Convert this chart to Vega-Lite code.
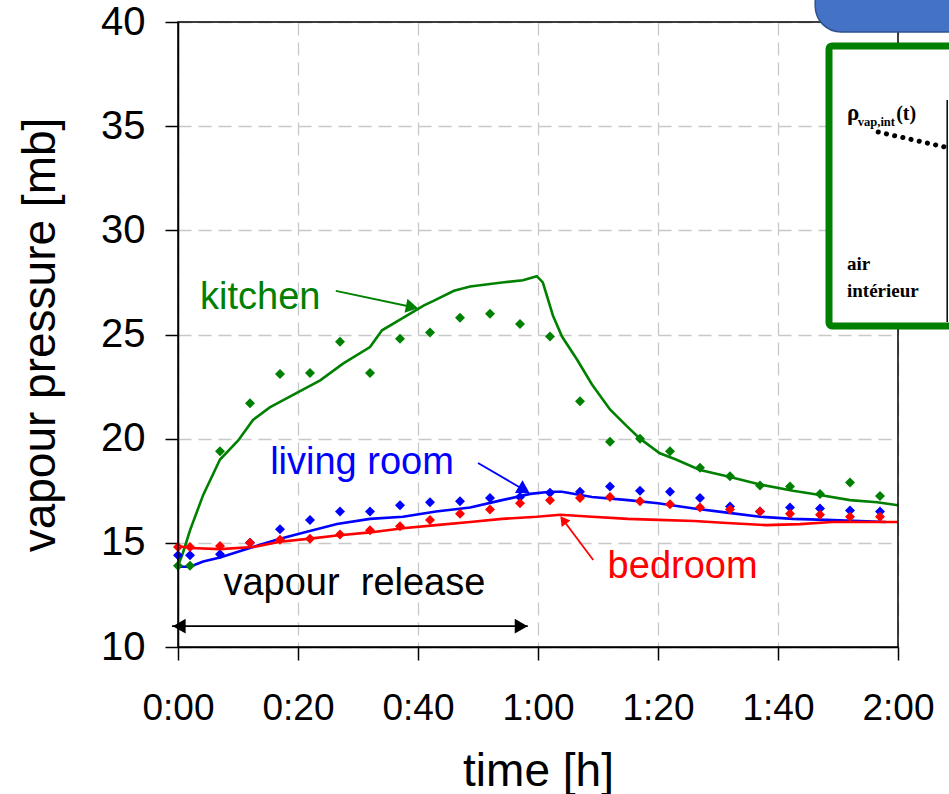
{
  "$schema": "https://vega.github.io/schema/vega-lite/v6.json",
  "width": 720,
  "height": 625,
  "autosize": "none",
  "padding": {"left": 178, "top": 22, "right": 51, "bottom": 147},
  "background": "white",
  "config": {"view": {"stroke": null}, "font": "Liberation Sans"},
  "datasets": {
    "sim": [
      {"series": "kitchen", "t": 0, "p": 13.9}, {"series": "kitchen", "t": 0.8, "p": 14.5}, {"series": "kitchen", "t": 2, "p": 15.6}, {"series": "kitchen", "t": 4.2, "p": 17.3}, {"series": "kitchen", "t": 7, "p": 19.0}, {"series": "kitchen", "t": 10, "p": 19.9}, {"series": "kitchen", "t": 12.5, "p": 20.9}, {"series": "kitchen", "t": 15.3, "p": 21.5}, {"series": "kitchen", "t": 19.8, "p": 22.2}, {"series": "kitchen", "t": 23.7, "p": 22.8}, {"series": "kitchen", "t": 27.5, "p": 23.6}, {"series": "kitchen", "t": 32, "p": 24.4}, {"series": "kitchen", "t": 34, "p": 25.2}, {"series": "kitchen", "t": 37.5, "p": 25.8}, {"series": "kitchen", "t": 41, "p": 26.4}, {"series": "kitchen", "t": 42.5, "p": 26.6}, {"series": "kitchen", "t": 46, "p": 27.1}, {"series": "kitchen", "t": 48.7, "p": 27.3}, {"series": "kitchen", "t": 54, "p": 27.5}, {"series": "kitchen", "t": 57.5, "p": 27.6}, {"series": "kitchen", "t": 59.8, "p": 27.8}, {"series": "kitchen", "t": 60.8, "p": 27.5}, {"series": "kitchen", "t": 62.5, "p": 25.9}, {"series": "kitchen", "t": 64, "p": 24.9}, {"series": "kitchen", "t": 66.5, "p": 23.8}, {"series": "kitchen", "t": 69, "p": 22.6}, {"series": "kitchen", "t": 72, "p": 21.4}, {"series": "kitchen", "t": 74.8, "p": 20.6}, {"series": "kitchen", "t": 77, "p": 20.0}, {"series": "kitchen", "t": 80.3, "p": 19.3}, {"series": "kitchen", "t": 83, "p": 19.0}, {"series": "kitchen", "t": 87, "p": 18.5}, {"series": "kitchen", "t": 91.5, "p": 18.2}, {"series": "kitchen", "t": 97, "p": 17.8}, {"series": "kitchen", "t": 102.5, "p": 17.5}, {"series": "kitchen", "t": 107, "p": 17.3}, {"series": "kitchen", "t": 112, "p": 17.05}, {"series": "kitchen", "t": 116.5, "p": 16.95}, {"series": "kitchen", "t": 120, "p": 16.8},
      {"series": "living room", "t": 0, "p": 13.85}, {"series": "living room", "t": 2, "p": 13.85}, {"series": "living room", "t": 4.2, "p": 14.1}, {"series": "living room", "t": 7, "p": 14.3}, {"series": "living room", "t": 12.5, "p": 14.8}, {"series": "living room", "t": 17, "p": 15.2}, {"series": "living room", "t": 21, "p": 15.5}, {"series": "living room", "t": 26.5, "p": 15.9}, {"series": "living room", "t": 32, "p": 16.15}, {"series": "living room", "t": 37.5, "p": 16.25}, {"series": "living room", "t": 43, "p": 16.5}, {"series": "living room", "t": 48.7, "p": 16.7}, {"series": "living room", "t": 54, "p": 17.05}, {"series": "living room", "t": 58.7, "p": 17.35}, {"series": "living room", "t": 62, "p": 17.45}, {"series": "living room", "t": 64, "p": 17.45}, {"series": "living room", "t": 69, "p": 17.2}, {"series": "living room", "t": 75, "p": 17.05}, {"series": "living room", "t": 80, "p": 16.9}, {"series": "living room", "t": 86, "p": 16.65}, {"series": "living room", "t": 91.5, "p": 16.45}, {"series": "living room", "t": 97, "p": 16.25}, {"series": "living room", "t": 102.5, "p": 16.15}, {"series": "living room", "t": 108, "p": 16.1}, {"series": "living room", "t": 113.7, "p": 16.05}, {"series": "living room", "t": 118, "p": 16.0},
      {"series": "bedroom", "t": 0, "p": 14.85}, {"series": "bedroom", "t": 2, "p": 14.75}, {"series": "bedroom", "t": 7, "p": 14.7}, {"series": "bedroom", "t": 12.5, "p": 14.8}, {"series": "bedroom", "t": 17, "p": 15.05}, {"series": "bedroom", "t": 22, "p": 15.2}, {"series": "bedroom", "t": 26.5, "p": 15.35}, {"series": "bedroom", "t": 32, "p": 15.5}, {"series": "bedroom", "t": 37.5, "p": 15.7}, {"series": "bedroom", "t": 43, "p": 15.85}, {"series": "bedroom", "t": 48.7, "p": 16.0}, {"series": "bedroom", "t": 54, "p": 16.15}, {"series": "bedroom", "t": 59.8, "p": 16.25}, {"series": "bedroom", "t": 63.7, "p": 16.35}, {"series": "bedroom", "t": 69, "p": 16.25}, {"series": "bedroom", "t": 75, "p": 16.15}, {"series": "bedroom", "t": 80, "p": 16.1}, {"series": "bedroom", "t": 86, "p": 16.05}, {"series": "bedroom", "t": 91.5, "p": 15.95}, {"series": "bedroom", "t": 98, "p": 15.85}, {"series": "bedroom", "t": 103.7, "p": 15.9}, {"series": "bedroom", "t": 109, "p": 16.0}, {"series": "bedroom", "t": 120, "p": 16.0}
    ],
    "meas": [
      {"series": "kitchen", "t": 0, "p": 13.9}, {"series": "kitchen", "t": 2, "p": 13.9}, {"series": "kitchen", "t": 7, "p": 19.4}, {"series": "kitchen", "t": 12, "p": 21.7}, {"series": "kitchen", "t": 17, "p": 23.1}, {"series": "kitchen", "t": 22, "p": 23.15}, {"series": "kitchen", "t": 27, "p": 24.65}, {"series": "kitchen", "t": 32, "p": 23.15}, {"series": "kitchen", "t": 37, "p": 24.8}, {"series": "kitchen", "t": 42, "p": 25.1}, {"series": "kitchen", "t": 47, "p": 25.8}, {"series": "kitchen", "t": 52, "p": 26.0}, {"series": "kitchen", "t": 57, "p": 25.5}, {"series": "kitchen", "t": 62, "p": 24.9}, {"series": "kitchen", "t": 67, "p": 21.8}, {"series": "kitchen", "t": 72, "p": 19.85}, {"series": "kitchen", "t": 77, "p": 20.0}, {"series": "kitchen", "t": 82, "p": 19.4}, {"series": "kitchen", "t": 87, "p": 18.6}, {"series": "kitchen", "t": 92, "p": 18.2}, {"series": "kitchen", "t": 97, "p": 17.75}, {"series": "kitchen", "t": 102, "p": 17.7}, {"series": "kitchen", "t": 107, "p": 17.35}, {"series": "kitchen", "t": 112, "p": 17.9}, {"series": "kitchen", "t": 117, "p": 17.25},
      {"series": "living room", "t": 0, "p": 14.4}, {"series": "living room", "t": 2, "p": 14.4}, {"series": "living room", "t": 7, "p": 14.45}, {"series": "living room", "t": 12, "p": 15.0}, {"series": "living room", "t": 17, "p": 15.65}, {"series": "living room", "t": 22, "p": 16.1}, {"series": "living room", "t": 27, "p": 16.5}, {"series": "living room", "t": 32, "p": 16.5}, {"series": "living room", "t": 37, "p": 16.8}, {"series": "living room", "t": 42, "p": 16.95}, {"series": "living room", "t": 47, "p": 17.0}, {"series": "living room", "t": 52, "p": 17.15}, {"series": "living room", "t": 57, "p": 17.2}, {"series": "living room", "t": 62, "p": 17.4}, {"series": "living room", "t": 67, "p": 17.45}, {"series": "living room", "t": 72, "p": 17.7}, {"series": "living room", "t": 77, "p": 17.5}, {"series": "living room", "t": 82, "p": 17.45}, {"series": "living room", "t": 87, "p": 17.15}, {"series": "living room", "t": 92, "p": 16.75}, {"series": "living room", "t": 97, "p": 16.5}, {"series": "living room", "t": 102, "p": 16.7}, {"series": "living room", "t": 107, "p": 16.65}, {"series": "living room", "t": 112, "p": 16.55}, {"series": "living room", "t": 117, "p": 16.5},
      {"series": "bedroom", "t": 0, "p": 14.8}, {"series": "bedroom", "t": 2, "p": 14.8}, {"series": "bedroom", "t": 7, "p": 14.85}, {"series": "bedroom", "t": 12, "p": 15.0}, {"series": "bedroom", "t": 17, "p": 15.15}, {"series": "bedroom", "t": 22, "p": 15.2}, {"series": "bedroom", "t": 27, "p": 15.4}, {"series": "bedroom", "t": 32, "p": 15.6}, {"series": "bedroom", "t": 37, "p": 15.8}, {"series": "bedroom", "t": 42, "p": 16.1}, {"series": "bedroom", "t": 47, "p": 16.4}, {"series": "bedroom", "t": 52, "p": 16.6}, {"series": "bedroom", "t": 57, "p": 16.9}, {"series": "bedroom", "t": 62, "p": 17.05}, {"series": "bedroom", "t": 67, "p": 17.15}, {"series": "bedroom", "t": 72, "p": 17.2}, {"series": "bedroom", "t": 77, "p": 17.0}, {"series": "bedroom", "t": 82, "p": 16.85}, {"series": "bedroom", "t": 87, "p": 16.7}, {"series": "bedroom", "t": 92, "p": 16.6}, {"series": "bedroom", "t": 97, "p": 16.5}, {"series": "bedroom", "t": 102, "p": 16.4}, {"series": "bedroom", "t": 107, "p": 16.35}, {"series": "bedroom", "t": 112, "p": 16.25}, {"series": "bedroom", "t": 117, "p": 16.25}
    ],
    "labels": [
      {"label": "kitchen", "series": "kitchen", "t": 13.7, "p": 26.23},
      {"label": "living room", "series": "living room", "t": 30.67, "p": 18.3},
      {"label": "bedroom", "series": "bedroom", "t": 84.1, "p": 13.31},
      {"label": "vapour\u00a0 release", "series": "other", "t": 29.4, "p": 12.5}
    ],
    "segments": [
      {"series": "kitchen", "t": 26.3, "p": 27.09, "t2": 39.0, "p2": 26.32},
      {"series": "living room", "t": 50, "p": 18.83, "t2": 57.7, "p2": 17.54},
      {"series": "bedroom", "t": 69.2, "p": 14.18, "t2": 64.2, "p2": 16.1},
      {"series": "other", "t": -1, "p": 11.0, "t2": 58.3, "p2": 11.0}
    ],
    "heads": [
      {"head": "kitchen", "series": "kitchen", "t": 39.0, "p": 26.32},
      {"head": "living", "series": "living room", "t": 57.7, "p": 17.54},
      {"head": "bedroom", "series": "bedroom", "t": 64.2, "p": 16.1},
      {"head": "releaseL", "series": "other", "t": 0.2, "p": 11.0},
      {"head": "releaseR", "series": "other", "t": 57.2, "p": 11.0}
    ],
    "shapes": [
      {"shape": "blue", "x1": 106.2, "x2": 140, "y1": 39.52, "y2": 42.5},
      {"shape": "green", "x1": 108.5, "x2": 135, "y1": 25.41, "y2": 38.85}
    ],
    "insetlines": [
      {"ln": "dots", "t": 116.7, "p": 34.72, "t2": 127.8, "p2": 34.0},
      {"ln": "wall", "t": 128.2, "p": 36.26, "t2": 128.2, "p2": 25.6}
    ],
    "insettext": [
      {"txt": "ρ", "t": 111.5, "p": 35.3, "kind": "rho"},
      {"txt": "vap,int", "t": 113.3, "p": 35.0, "kind": "sub"},
      {"txt": "(t)", "t": 119.7, "p": 35.3, "kind": "big"},
      {"txt": "air", "t": 111.5, "p": 28.1, "kind": "body"},
      {"txt": "intérieur", "t": 111.5, "p": 26.8, "kind": "body"}
    ]
  },
  "layer": [
    {
      "data": {"name": "sim"},
      "mark": {"type": "line", "strokeWidth": 2.6, "clip": false},
      "encoding": {
        "x": {
          "field": "t", "type": "quantitative", "title": "time [h]",
          "scale": {"domain": [0, 120], "nice": false, "zero": false},
          "axis": {
            "values": [0, 20, 40, 60, 80, 100, 120],
            "labelExpr": "floor(datum.value/60) + ':' + (datum.value % 60 < 10 ? '0' : '') + (datum.value % 60)",
            "labelFontSize": 37, "labelColor": "black", "labelPadding": 30, "labelFlush": false,
            "tickSize": 13, "tickColor": "black", "tickWidth": 1.5,
            "domainColor": "black", "domainWidth": 1.5,
            "grid": true, "gridColor": "#C8C8C8", "gridDash": [13, 7], "gridWidth": 1.3,
            "titleFontSize": 46, "titleFontWeight": "normal", "titleColor": "black",
            "titleX": 360, "titleY": 138, "titleBaseline": "alphabetic", "titleAlign": "center"
          }
        },
        "y": {
          "field": "p", "type": "quantitative", "title": "vapour pressure [mb]",
          "scale": {"domain": [10, 40], "nice": false, "zero": false},
          "axis": {
            "values": [10, 15, 20, 25, 30, 35, 40],
            "labelFontSize": 40, "labelColor": "black", "labelPadding": 20, "labelFlush": false,
            "tickSize": 13, "tickColor": "black", "tickWidth": 1.5,
            "domainColor": "black", "domainWidth": 1.5,
            "grid": true, "gridColor": "#C8C8C8", "gridDash": [13, 7], "gridWidth": 1.3,
            "titleFontSize": 46, "titleFontWeight": "normal", "titleColor": "black",
            "titleX": -138, "titleY": 312.5, "titleBaseline": "middle", "titleAlign": "center", "titleAngle": -90
          }
        },
        "color": {
          "field": "series", "type": "nominal", "legend": null,
          "scale": {"domain": ["kitchen", "living room", "bedroom", "other"], "range": ["#008000", "#0000FF", "#FF0000", "#000000"]}
        },
        "detail": {"field": "series"}
      }
    },
    {
      "data": {"name": "meas"},
      "mark": {"type": "point", "shape": "diamond", "filled": true, "opacity": 1},
      "encoding": {
        "x": {"field": "t", "type": "quantitative", "title": "time [h]"},
        "y": {"field": "p", "type": "quantitative", "title": "vapour pressure [mb]"},
        "color": {"field": "series", "type": "nominal", "legend": null},
        "size": {"field": "series", "type": "nominal", "legend": null, "scale": {"domain": ["kitchen", "living room", "bedroom"], "range": [100, 100, 50]}}
      }
    },
    {
      "data": {"values": [{}]},
      "mark": {"type": "rect", "fillOpacity": 0, "stroke": "black", "strokeWidth": 1.5},
      "encoding": {
        "x": {"datum": 0, "type": "quantitative"},
        "x2": {"datum": 120},
        "y": {"datum": 10, "type": "quantitative"},
        "y2": {"datum": 40}
      }
    },
    {
      "data": {"name": "segments"},
      "mark": {"type": "rule", "strokeWidth": 1.8, "clip": false},
      "encoding": {
        "x": {"field": "t", "type": "quantitative", "title": "time [h]"},
        "y": {"field": "p", "type": "quantitative", "title": "vapour pressure [mb]"},
        "x2": {"field": "t2"},
        "y2": {"field": "p2"},
        "color": {"field": "series", "type": "nominal", "legend": null}
      }
    },
    {
      "data": {"name": "heads"},
      "transform": [{"filter": "datum.head == 'kitchen'"}],
      "mark": {"type": "point", "shape": "triangle-right", "filled": true, "opacity": 1, "size": 200, "angle": 12, "clip": false},
      "encoding": {
        "x": {"field": "t", "type": "quantitative", "title": "time [h]"},
        "y": {"field": "p", "type": "quantitative", "title": "vapour pressure [mb]"},
        "color": {"field": "series", "type": "nominal", "legend": null}
      }
    },
    {
      "data": {"name": "heads"},
      "transform": [{"filter": "datum.head == 'living'"}],
      "mark": {"type": "point", "shape": "triangle-right", "filled": true, "opacity": 1, "size": 220, "angle": 31, "clip": false},
      "encoding": {
        "x": {"field": "t", "type": "quantitative", "title": "time [h]"},
        "y": {"field": "p", "type": "quantitative", "title": "vapour pressure [mb]"},
        "color": {"field": "series", "type": "nominal", "legend": null}
      }
    },
    {
      "data": {"name": "heads"},
      "transform": [{"filter": "datum.head == 'bedroom'"}],
      "mark": {"type": "point", "shape": "triangle-right", "filled": true, "opacity": 1, "size": 120, "angle": 233, "clip": false},
      "encoding": {
        "x": {"field": "t", "type": "quantitative", "title": "time [h]"},
        "y": {"field": "p", "type": "quantitative", "title": "vapour pressure [mb]"},
        "color": {"field": "series", "type": "nominal", "legend": null}
      }
    },
    {
      "data": {"name": "heads"},
      "transform": [{"filter": "datum.head == 'releaseL'"}],
      "mark": {"type": "point", "shape": "triangle-left", "filled": true, "opacity": 1, "size": 220, "clip": false},
      "encoding": {
        "x": {"field": "t", "type": "quantitative", "title": "time [h]"},
        "y": {"field": "p", "type": "quantitative", "title": "vapour pressure [mb]"},
        "color": {"field": "series", "type": "nominal", "legend": null}
      }
    },
    {
      "data": {"name": "heads"},
      "transform": [{"filter": "datum.head == 'releaseR'"}],
      "mark": {"type": "point", "shape": "triangle-right", "filled": true, "opacity": 1, "size": 220, "clip": false},
      "encoding": {
        "x": {"field": "t", "type": "quantitative", "title": "time [h]"},
        "y": {"field": "p", "type": "quantitative", "title": "vapour pressure [mb]"},
        "color": {"field": "series", "type": "nominal", "legend": null}
      }
    },
    {
      "data": {"name": "labels"},
      "mark": {"type": "text", "fontSize": 38, "font": "Liberation Sans", "align": "center", "baseline": "alphabetic", "clip": false},
      "encoding": {
        "x": {"field": "t", "type": "quantitative", "title": "time [h]"},
        "y": {"field": "p", "type": "quantitative", "title": "vapour pressure [mb]"},
        "text": {"field": "label"},
        "color": {"field": "series", "type": "nominal", "legend": null}
      }
    },
    {
      "data": {"name": "shapes"},
      "transform": [{"filter": "datum.shape == 'blue'"}],
      "mark": {"type": "rect", "fill": "#4472C4", "stroke": "#2F528F", "strokeWidth": 1.5, "cornerRadius": 26, "clip": false},
      "encoding": {
        "x": {"field": "x1", "type": "quantitative", "title": "time [h]"},
        "x2": {"field": "x2"},
        "y": {"field": "y1", "type": "quantitative", "title": "vapour pressure [mb]"},
        "y2": {"field": "y2"}
      }
    },
    {
      "data": {"name": "shapes"},
      "transform": [{"filter": "datum.shape == 'green'"}],
      "mark": {"type": "rect", "fill": "white", "stroke": "#008000", "strokeWidth": 7, "cornerRadius": 3, "clip": false},
      "encoding": {
        "x": {"field": "x1", "type": "quantitative", "title": "time [h]"},
        "x2": {"field": "x2"},
        "y": {"field": "y1", "type": "quantitative", "title": "vapour pressure [mb]"},
        "y2": {"field": "y2"}
      }
    },
    {
      "data": {"name": "insetlines"},
      "transform": [{"filter": "datum.ln == 'wall'"}],
      "mark": {"type": "rule", "color": "black", "strokeWidth": 1.5, "clip": false},
      "encoding": {
        "x": {"field": "t", "type": "quantitative", "title": "time [h]"},
        "y": {"field": "p", "type": "quantitative", "title": "vapour pressure [mb]"},
        "x2": {"field": "t2"},
        "y2": {"field": "p2"}
      }
    },
    {
      "data": {"name": "insetlines"},
      "transform": [{"filter": "datum.ln == 'dots'"}],
      "mark": {"type": "rule", "color": "black", "strokeWidth": 5, "strokeCap": "round", "strokeDash": [0.1, 8.3], "clip": false},
      "encoding": {
        "x": {"field": "t", "type": "quantitative", "title": "time [h]"},
        "y": {"field": "p", "type": "quantitative", "title": "vapour pressure [mb]"},
        "x2": {"field": "t2"},
        "y2": {"field": "p2"}
      }
    },
    {
      "data": {"name": "insettext"},
      "transform": [{"filter": "datum.kind == 'rho'"}],
      "mark": {"type": "text", "font": "Liberation Serif", "fontWeight": "bold", "fontSize": 23, "align": "left", "baseline": "alphabetic", "color": "black", "clip": false},
      "encoding": {
        "x": {"field": "t", "type": "quantitative", "title": "time [h]"},
        "y": {"field": "p", "type": "quantitative", "title": "vapour pressure [mb]"},
        "text": {"field": "txt"}
      }
    },
    {
      "data": {"name": "insettext"},
      "transform": [{"filter": "datum.kind == 'big'"}],
      "mark": {"type": "text", "font": "Liberation Serif", "fontWeight": "bold", "fontSize": 20, "align": "left", "baseline": "alphabetic", "color": "black", "clip": false},
      "encoding": {
        "x": {"field": "t", "type": "quantitative", "title": "time [h]"},
        "y": {"field": "p", "type": "quantitative", "title": "vapour pressure [mb]"},
        "text": {"field": "txt"}
      }
    },
    {
      "data": {"name": "insettext"},
      "transform": [{"filter": "datum.kind == 'sub'"}],
      "mark": {"type": "text", "font": "Liberation Serif", "fontWeight": "bold", "fontSize": 12.5, "align": "left", "baseline": "alphabetic", "color": "black", "clip": false},
      "encoding": {
        "x": {"field": "t", "type": "quantitative", "title": "time [h]"},
        "y": {"field": "p", "type": "quantitative", "title": "vapour pressure [mb]"},
        "text": {"field": "txt"}
      }
    },
    {
      "data": {"name": "insettext"},
      "transform": [{"filter": "datum.kind == 'body'"}],
      "mark": {"type": "text", "font": "Liberation Serif", "fontWeight": "bold", "fontSize": 19, "align": "left", "baseline": "alphabetic", "color": "black", "clip": false},
      "encoding": {
        "x": {"field": "t", "type": "quantitative", "title": "time [h]"},
        "y": {"field": "p", "type": "quantitative", "title": "vapour pressure [mb]"},
        "text": {"field": "txt"}
      }
    }
  ]
}
